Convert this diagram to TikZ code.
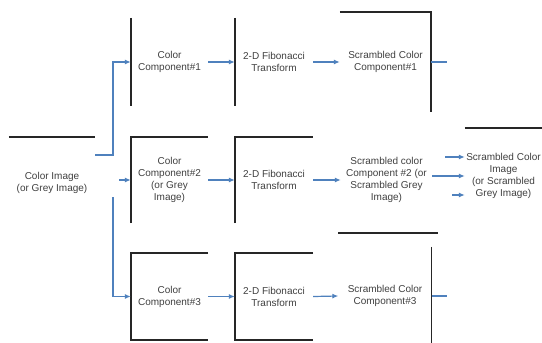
\documentclass[tikz,border=0pt]{standalone}
\usepackage{fontspec}
\setmainfont{Liberation Sans}
\usetikzlibrary{arrows.meta,calc}
\definecolor{linkblue}{RGB}{79,129,189}
\begin{document}
\begin{tikzpicture}[x=1pt,y=-1pt,
  blk/.style={line width=1.5pt, draw=black!85},
  lnk/.style={line width=1.2pt, draw=linkblue},
  arr/.style={lnk, -{Latex[length=6pt,width=5pt]}},
  box/.style={align=center, inner sep=0pt, text=black!75, font=\fontsize{10}{12}\selectfont},
]
\useasboundingbox[fill=white] (0,0) rectangle (542,343);

% nodes
\node[box, minimum width=86pt, minimum height=92pt] (img) at (52,183) {Color Image\\(or Grey Image)};

\node[box, minimum width=77pt, minimum height=88pt] (c1) at (169.5,62) {Color\\Component\#1};
\node[box, minimum width=78pt, minimum height=88pt] (f1) at (274,62) {2-D Fibonacci\\Transform};
\node[box, minimum width=91pt, minimum height=100pt] (s1) at (385.5,62) {Scrambled Color\\Component\#1};

\node[box, minimum width=77pt, minimum height=86pt] (c2) at (169.5,180) {Color\\Component\#2\\(or Grey\\Image)};
\node[box, minimum width=78pt, minimum height=86pt] (f2) at (274,180) {2-D Fibonacci\\Transform};
\node[box, minimum width=91pt, minimum height=86pt] (s2) at (386.5,180) {Scrambled color\\Component \#2 (or\\Scrambled Grey\\Image)};
\node[box, minimum width=77pt, minimum height=96pt] (out) at (503.5,176) {Scrambled Color\\Image\\(or Scrambled\\Grey Image)};

\node[box, minimum width=77pt, minimum height=87pt] (c3) at (169.5,296.5) {Color\\Component\#3};
\node[box, minimum width=78pt, minimum height=87pt] (f3) at (274,296.5) {2-D Fibonacci\\Transform};
\node[box, minimum width=93pt, minimum height=126pt] (s3) at (385,296) {Scrambled Color\\Component\#3};

% visible box edges
\draw[blk] (img.north west) -- (img.north east);
\draw[blk] (c1.north west) -- (c1.south west);
\draw[blk] (f1.north west) -- (f1.south west);
\draw[blk] (s1.north west) -- (s1.north east) -- (s1.south east);
\draw[blk] (c2.south west) -- (c2.north west) -- (c2.north east);
\draw[blk] (f2.south west) -- (f2.north west) -- (f2.north east);
\draw[blk] (out.north west) -- (out.north east);
\draw[blk] (c3.north east) -- (c3.north west) -- (c3.south west) -- (c3.south east);
\draw[blk] (f3.north east) -- (f3.north west) -- (f3.south west) -- (f3.south east);
\draw[blk] (s3.north west) -- ([xshift=6pt]s3.north east);
\draw[blk] ([yshift=-14pt]s3.north east) -- (s3.south east);

% connectors
\coordinate (j) at (113,155);
\coordinate (k) at (113,197);
\coordinate (m) at (119,180);
\draw[arr] (img.east |- j) -- (j) |- (c1.west);
\draw[arr] (k) |- (c3.west);
\draw[arr] (m) -- (c2.west);

\draw[arr] (c1.east) -- (f1.west);
\draw[arr] (f1.east) -- (s1.west);
\draw[arr] (c2.east) -- (f2.west);
\draw[arr] (f2.east) -- (s2.west);
\draw[arr] (c3.east) -- (f3.west);
\draw[arr] (f3.east) -- (s3.west);

\coordinate (t1) at (447,62);
\coordinate (t3) at (447,296);
\draw[lnk] (s1.east) -- (t1);
\draw[lnk] (s3.east) -- (t3);

\coordinate (u1) at (445,157);
\coordinate (u3) at (452,195);
\draw[arr] (u1) -- (u1 -| out.west);
\draw[arr] (s2.east |- out.west) -- (out.west);
\draw[arr] (u3) -- (u3 -| out.west);
\end{tikzpicture}
\end{document}
